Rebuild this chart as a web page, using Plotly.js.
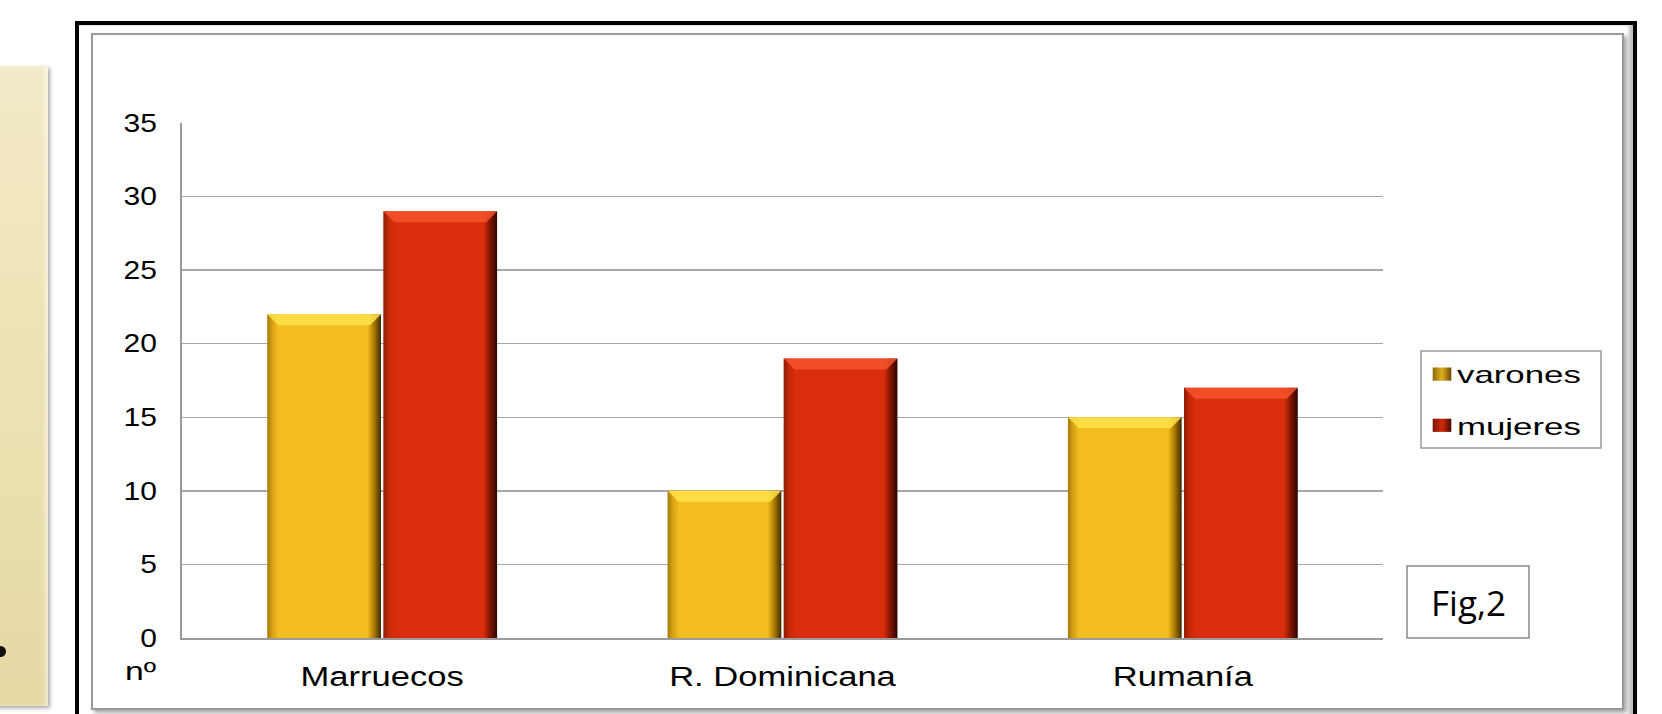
<!DOCTYPE html>
<html><head><meta charset="utf-8">
<script src="https://cdn.plot.ly/plotly-3.0.1.min.js"></script>
<style>
html,body{margin:0;padding:0;background:#fff;}
#wrap{position:relative;width:1662px;height:714px;overflow:hidden;background:#fff;}
#beige{position:absolute;left:-6px;top:66px;width:54px;height:640px;
  background:linear-gradient(180deg,#f3ebc8 0%,#ece2b4 45%,#e6d9a4 100%);
  box-shadow:2px 2px 4px rgba(0,0,0,0.35), inset -3px 0 4px rgba(255,255,255,0.5);}
#dot{position:absolute;left:-5px;top:646px;width:11px;height:11px;border-radius:50%;background:#111;}
#outer{position:absolute;left:75px;top:21px;width:1554px;height:720px;border:4px solid #000;
  box-shadow:inset -4px 0 3px rgba(0,0,0,0.25);}
#inner{position:absolute;left:91px;top:33px;width:1529px;height:673px;border:2px solid #9a9a9a;background:#fff;
  box-shadow:3px 3px 4px rgba(0,0,0,0.35);}
#chart{position:absolute;left:0;top:0;width:1662px;height:714px;}
</style>
</head><body>
<div id="wrap">
  <div id="beige"></div>
  <div id="dot"></div>
  <div id="outer"></div>
  <div id="inner"></div>
  <div id="chart"></div>
</div>
<script>
// ---- data ----
const categories = ["Marruecos", "R. Dominicana", "Rumanía"];
const varones = [22, 10, 15];
const mujeres = [29, 19, 17];
const seriesNames = ["varones", "mujeres"];
const yTickVals = [0, 5, 10, 15, 20, 25, 30, 35];
const yUnitLabel = "nº";
const figLabel = "Fig,2";

const W = 1662, H = 714;
const L = 182, R = 1383, T = 123, B = 638;
const px = x => (x - L) / (R - L);
const py = y => (B - y) / (B - T);
const FONT = "Liberation Sans, Arial, sans-serif";

const traces = [
  {type: "bar", name: seriesNames[0], x: categories, y: varones, legendgroup: "a",
   marker: {color: "#f3bd20", line: {width: 0}}, hoverinfo: "x+y"},
  {type: "bar", name: seriesNames[1], x: categories, y: mujeres, legendgroup: "b",
   marker: {color: "#d92d0b", line: {width: 0}}, hoverinfo: "x+y"}
];

const layout = {
  width: W, height: H,
  margin: {l: L, r: W - R, t: T, b: H - B, pad: 0},
  paper_bgcolor: "rgba(0,0,0,0)",
  plot_bgcolor: "rgba(0,0,0,0)",
  barmode: "group",
  bargap: 0.42,
  bargroupgap: 0.02,
  showlegend: true,
  legend: {
    x: px(1417), y: py(352), xanchor: "left", yanchor: "top",
    borderwidth: 0, bgcolor: "rgba(0,0,0,0)",
    font: {family: FONT, size: 24, color: "#000"},
    traceorder: "grouped", tracegroupgap: 17,
    itemwidth: 30
  },
  xaxis: {
    type: "category",
    showgrid: false, zeroline: false,
    showline: true, linecolor: "#9a9a9a", linewidth: 2,
    ticks: "", ticklabelstandoff: 14,
    tickfont: {family: FONT, size: 27, color: "#000"}
  },
  yaxis: {
    range: [0, 35], tickvals: yTickVals,
    showgrid: true, gridcolor: "#a8a8a8", gridwidth: 1.5,
    zeroline: false,
    showline: true, linecolor: "#9a9a9a", linewidth: 2,
    ticks: "", ticklabelstandoff: 18,
    tickfont: {family: FONT, size: 25, color: "#000"}
  },
  shapes: [
    {type: "rect", xref: "paper", yref: "paper", x0: px(1421), x1: px(1601), y0: py(448), y1: py(351),
     line: {color: "#9a9a9a", width: 1.5}, fillcolor: "#fff", layer: "below"},
    {type: "rect", xref: "paper", yref: "paper", x0: px(1407), x1: px(1529), y0: py(638), y1: py(566),
     line: {color: "#8a8a8a", width: 1.5}, fillcolor: "#fff", layer: "above"}
  ],
  annotations: [
    {xref: "paper", yref: "paper", x: px(1468), y: py(602), text: figLabel, showarrow: false,
     font: {family: "Open Sans, Noto Sans, sans-serif", size: 35, color: "#000"},
     xanchor: "center", yanchor: "middle"},
    {xref: "paper", yref: "paper", x: px(140), y: py(671), text: yUnitLabel, showarrow: false,
     font: {family: FONT, size: 25, color: "#000"},
     xanchor: "center", yanchor: "middle"}
  ]
};

Plotly.newPlot("chart", traces, layout, {displayModeBar: false, staticPlot: true}).then(gd => {
  const ns = "http://www.w3.org/2000/svg";
  // horizontally stretched lettering, as in the original picture
  function stretchEl(t, r) {
    const w = t.getComputedTextLength();
    t.setAttribute("textLength", (w * r).toFixed(1));
    t.setAttribute("lengthAdjust", "spacingAndGlyphs");
  }
  gd.querySelectorAll(".xtick text").forEach(t => stretchEl(t, 1.28));
  gd.querySelectorAll(".ytick text").forEach(t => stretchEl(t, 1.2));
  gd.querySelectorAll(".legendtext").forEach(t => stretchEl(t, 1.45));
  gd.querySelectorAll(".annotation-text").forEach(t => {
    if (t.textContent === yUnitLabel) stretchEl(t, 1.35);
  });
  // let the stretched legend text show in full
  gd.querySelectorAll(".legend .scrollbox, .legend").forEach(e => e.removeAttribute("clip-path"));

  const svg = gd.querySelector(".main-svg");
  const defs = document.createElementNS(ns, "defs");
  svg.insertBefore(defs, svg.firstChild);
  function grad(id, stops) {
    const g = document.createElementNS(ns, "linearGradient");
    g.setAttribute("id", id);
    g.setAttribute("x1", "0"); g.setAttribute("x2", "1");
    g.setAttribute("y1", "0"); g.setAttribute("y2", "0");
    stops.forEach(s => {
      const st = document.createElementNS(ns, "stop");
      st.setAttribute("offset", s[0]);
      st.setAttribute("stop-color", s[1]);
      g.appendChild(st);
    });
    defs.appendChild(g);
  }
  grad("gv", [[0, "#a87a08"], [0.05, "#d9a416"], [0.1, "#f3bd20"], [0.88, "#f3bd20"], [0.94, "#a87800"], [1, "#3f2a00"]]);
  grad("gm", [[0, "#8e1c05"], [0.05, "#c4290a"], [0.1, "#d92d0b"], [0.88, "#d92d0b"], [0.94, "#7e1503"], [1, "#300600"]]);
  grad("lv", [[0, "#8a6a08"], [0.5, "#e0b020"], [1, "#6a4a00"]]);
  grad("lm", [[0, "#7a1403"], [0.5, "#d02a0a"], [1, "#4a0a00"]]);
  const ids = ["gv", "gm"];
  const lids = ["lv", "lm"];
  const tops = ["#ffe24a", "#f4532b"];
  gd.querySelectorAll(".barlayer .trace").forEach((tr, i) => {
    tr.querySelectorAll("path").forEach(p => {
      p.style.fill = "url(#" + ids[i] + ")";
      const b = p.getBBox();
      if (b.height < 2) return;
      const d = 11;
      const poly = document.createElementNS(ns, "path");
      poly.setAttribute("d", "M" + b.x + "," + b.y + "H" + (b.x + b.width) +
        "L" + (b.x + b.width - d) + "," + (b.y + d) + "H" + (b.x + d) + "Z");
      poly.style.fill = tops[i];
      poly.style.opacity = 0.85;
      p.parentNode.appendChild(poly);
    });
  });
  gd.querySelectorAll(".legend .traces").forEach((tr, i) => {
    tr.querySelectorAll(".legendpoints path").forEach(p => {
      p.style.fill = "url(#" + lids[i] + ")";
      p.setAttribute("transform", "translate(25,0) scale(1.55,1.1)");
    });
  });
});
</script>
</body></html>
